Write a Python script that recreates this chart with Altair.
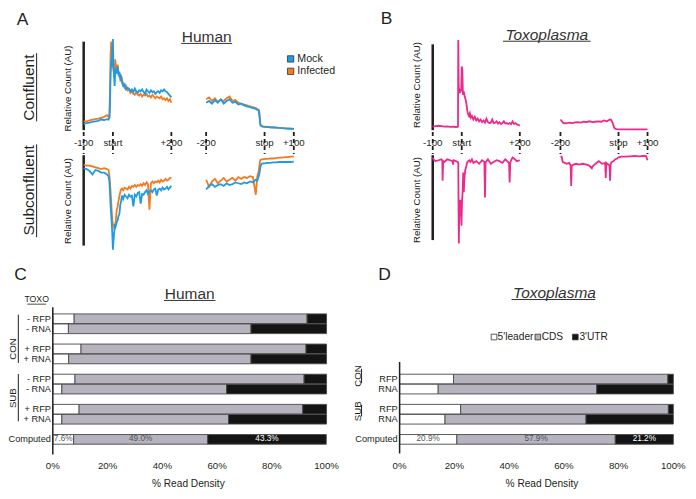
import altair as alt
import pandas as pd

# ---------------- metagene traces (x: nt from start / stop codon, y: relative count, AU) ----------------
A_START_NT = [-100, -90, -80, -70, -60, -50, -40, -30, -20, -15, -12,
              -10, -8, -6, -4, -2, 0, 2, 4, 6, 8, 10,
              13, 16, 19, 22, 25, 28, 31,
              35, 40, 45, 50, 55, 60, 65, 70, 75, 80, 85, 90, 95, 100, 105, 110, 115, 120,
              125, 130, 135, 140, 145, 150, 155, 160, 165, 170, 175, 180, 185, 190, 195, 200]
A_CONF_START_MOCK = [7, 8, 8.5, 9.5, 10, 10.5, 12, 11.5, 12.5, 12, 14,
                     30, 62, 80, 72, 95, 103, 74, 60, 50, 66, 70,
                     64, 72, 62, 66, 58, 60, 54,
                     50, 52, 46, 48, 47, 44, 46, 43, 47, 44, 42, 45, 44, 46, 43, 41, 46, 44,
                     42, 45, 43, 44, 41, 43, 44, 42, 45, 44, 46, 44, 43, 41, 39, 37]
A_CONF_START_INF = [10, 10, 11, 12, 12.5, 13, 14, 15, 17, 15, 16,
                    45, 85, 100, 82, 70, 85, 66, 75, 62, 80, 73,
                    70, 74, 66, 60, 64, 55, 58,
                    52, 48, 50, 45, 46, 42, 44, 41, 40, 43, 40, 39, 41, 38, 40, 39, 41, 38,
                    39, 37, 40, 38, 36, 38, 37, 36, 38, 35, 36, 34, 36, 33, 35, 31]
A_SUB_START_MOCK = [87, 86, 84, 80, 85, 84, 82, 82, 80, 78, 72,
                    60, 45, 35, 25, 12, -5, 5, 13, 20, 24, 22,
                    26, 28, 33, 35, 45, 50, 56,
                    52, 57, 55, 53, 57, 55, 56, 44, 57, 55, 59, 60, 47, 58, 57, 60, 62, 58,
                    61, 62, 60, 63, 64, 56, 63, 64, 62, 65, 63, 64, 66, 63, 65, 67]
A_SUB_START_INF = [91, 90, 90, 89, 88, 87, 86, 87, 86, 85, 78,
                   71, 60, 49, 38, 28, 24, 22, 20, 18, 24, 28,
                   40, 43, 50, 55, 60, 63, 64,
                   62, 65, 64, 63, 66, 64, 67, 66, 68, 66, 68, 67, 69, 67, 70, 68, 71, 69,
                   40, 70, 72, 70, 72, 71, 73, 71, 74, 72, 73, 75, 73, 74, 76, 76]

STOP_NT = [-200, -190, -180, -170, -160, -150, -140, -130, -120, -110, -100, -90, -80, -70,
           -60, -50, -40, -30, -25, -20, -17, -15, -13, -10, -5, 0,
           10, 20, 30, 40, 50, 60, 70, 80, 90, 100]
A_CONF_STOP_MOCK = [31, 33, 30, 34, 31, 35, 30, 33, 35, 31, 32, 29, 30, 28, 27, 26, 25, 24,
                    23, 22, 14, 7, 5, 4.5, 4, 3.8, 3.5, 3.2, 3, 2.8, 2.5, 2.3, 2, 1.8, 1.6, 1.5]
A_CONF_STOP_INF = [35, 37, 33, 36, 32, 34, 33, 36, 38, 33, 34, 31, 30, 29, 28, 27, 26, 25,
                   24, 23, 18, 8, 5.5, 4.6, 4, 3.9, 3.6, 3.3, 3.1, 2.9, 2.6, 2.4, 2.1, 1.9, 1.7, 1.6]
A_SUB_STOP_MOCK = [63, 67, 69, 66, 68, 69, 67, 70, 68, 69, 71, 70, 69, 71, 70, 72, 71, 74,
                   73, 78, 82, 87, 90, 92, 92.5, 92.5, 93, 93, 93.5, 93.5, 94, 94, 94, 94, 94, 94.5]
A_SUB_STOP_INF = [74, 66, 72, 75, 70, 73, 76, 72, 74, 76, 73, 77, 75, 77, 76, 78, 77, 57,
                  78, 84, 92, 96, 96.5, 97, 97, 97.5, 97.5, 98, 98, 98.5, 99, 99, 99.5, 99.5, 100, 100]

B_START_NT = [-100, -90, -80, -70, -60, -50, -40, -30, -20, -15, -13, -12, -11,
              -10, -8, -6, -4, -2, 0, 2, 4, 6, 8, 10,
              13, 16, 19, 22, 25, 28, 31,
              35, 40, 45, 50, 55, 60, 65, 70, 75, 80, 85, 90, 95, 100, 105, 110, 115, 120,
              125, 130, 135, 140, 145, 150, 155, 160, 165, 170, 175, 180, 185, 190, 195, 200]
B_CONF_START = [4, 4.5, 5, 4.5, 4, 4.2, 3.8, 4, 3.6, 3.8, 4, 102, 60,
                44, 45, 42, 45, 45, 72, 68, 40, 44, 42, 38,
                35, 30, 22, 18, 16, 19, 14,
                16, 12, 15, 11, 13, 10, 12, 9, 11, 8.5, 13, 9, 8, 8.5, 12, 8, 8.5, 10,
                7.5, 9, 7, 8, 10, 7.5, 8, 7, 8, 6.8, 10, 7, 8, 6.5, 6, 5]
B_CONF_STOP = [12, 8, 7.8, 8.5, 8, 8.8, 9, 8.5, 9.5, 9, 10, 9, 9.5, 10, 9.5, 11, 10, 12,
               11.5, 8, 5, 3, 2, 1.5, 1.2, 1, 1, 1, 1, 0.9, 0.9, 0.9, 0.8, 0.8, 0.8, 0.8]
B_SUB_START_NT = [-100, -95, -90, -80, -70, -67, -66, -64, -60, -50, -40, -32, -30, -28, -20,
                  -14, -12, -11, -10, -9, -7, -5, -3, -1, 1, 3, 5, 7, 9, 12, 15, 18, 22, 26, 30,
                  35, 40, 50, 60, 70, 78, 80, 82, 85, 90, 100, 110, 120, 130, 140, 150, 160,
                  163, 165, 167, 170, 175, 180, 190, 200]
B_SUB_START = [99, 96, 95, 96, 97, 96, 73, 95, 94, 97, 96, 95, 91, 96, 95,
               94, 93, 40, 2, 30, 49, 51, 40, 22, 50, 60, 82, 60, 75, 85, 88, 93, 95, 96, 94,
               97, 93, 95, 92, 96, 94, 54, 93, 95, 97, 92, 94, 96, 95, 93, 97, 94,
               92, 71, 93, 96, 99, 98, 95, 96]
B_SUB_STOP_NT = [-200, -196, -192, -185, -178, -170, -165, -163, -161, -155, -146, -135, -123,
                 -110, -101, -92, -90, -79, -68, -57, -46, -44, -42, -39, -31, -29, -27, -23,
                 -17, -12, -5, -1, 10, 25, 40, 55, 70, 85, 95, 100]
B_SUB_STOP = [100, 100, 94, 93, 92, 93, 90, 67, 90, 91, 92, 91, 92,
              91, 90, 87, 89, 92, 95, 92, 93, 76, 93, 92, 90, 73, 92, 94,
              95, 97, 98, 99, 100, 100, 100.5, 101, 100.5, 101, 100.6, 96]

TICK_NT = [-100, 0, 200, -200, 0, 100]
TICK_SEG = ["start", "start", "start", "stop", "stop", "stop"]
TICK_LABELS = ["-100", "start", "+200", "-200", "stop", "+100"]
SERIES_A = ["Mock", "Infected"]

# ---------------- read-density bars (% of reads) ----------------
C_ROWS = ["- RFP", "- RNA", "+ RFP", "+ RNA", "- RFP", "- RNA", "+ RFP", "+ RNA", "Computed"]
C_SLOT = [0, 1, 3, 4, 6, 7, 9, 10, 12]
C_LEADER = [7.8, 5.7, 10.3, 5.8, 8.1, 3.3, 9.6, 3.3, 7.6]
C_CDS = [85.1, 66.7, 82.2, 66.6, 83.7, 60.2, 81.7, 60.9, 49.0]
C_UTR = [7.1, 27.6, 7.5, 27.6, 8.2, 36.5, 8.7, 35.8, 43.3]

D_ROWS = ["RFP", "RNA", "RFP", "RNA", "Computed"]
D_SLOT = [6, 7, 9, 10, 12]
D_LEADER = [19.7, 14.1, 22.3, 16.6, 20.9]
D_CDS = [78.3, 57.9, 75.9, 51.5, 57.9]
D_UTR = [2.0, 28.0, 1.8, 31.9, 21.2]

PARTS = ["5'leader", "CDS", "3'UTR"]
PCT_TICKS = [0, 20, 40, 60, 80, 100]

# ---------------- styles / layout ----------------
FONT = "Liberation Sans"
INK = "#231f20"
MOCK_C, INF_C, TOXO_C = "#1f9be3", "#f47a20", "#ec2a8c"
PART_COLORS = ["#ffffff", "#b6b2be", "#141414"]
TRACE_W = 1.8

SX, SY = 678 / 696, 480 / 499
FS = (SX + SY) / 2
W_L, W_R, H_T, H_B = 341, 337, 258, 222
XL = (0.0, W_L / SX)
XR = (W_L / SX, (W_L + W_R) / SX)
YT = (0.0, H_T / SY)
YB = (H_T / SY, (H_T + H_B) / SY)


def lin(a, b, r0, r1):
    return [(r0 - a) / b, (r1 - a) / b]


def xscale(a, b, span):
    return alt.Scale(domain=lin(a, b, span[0], span[1]), nice=False, zero=False)


def yscale(a, b, span):
    return alt.Scale(domain=lin(a, b, span[1], span[0]), nice=False, zero=False)


def exy(xs, ys):
    return dict(x=alt.X("x:Q", scale=xs, axis=None), y=alt.Y("y:Q", scale=ys, axis=None))


def texts(rows, xs, ys, size, color=INK, **kw):
    df = pd.DataFrame(rows, columns=["x", "y", "t"])
    return alt.Chart(df).mark_text(font=FONT, fontSize=size * FS, color=color, **kw).encode(
        **exy(xs, ys), text="t:N")


def rules(rows, xs, ys, **kw):
    df = pd.DataFrame(rows, columns=["x", "x2", "y", "y2"])
    return alt.Chart(df).mark_rule(**kw).encode(**exy(xs, ys), x2="x2:Q", y2="y2:Q")


def trace_df(parts):
    recs = []
    for g, nts, vals, xo, yo in parts:
        for n, v in zip(nts, vals):
            recs.append({"g": g, "x": n + xo, "y": v + yo})
    return pd.DataFrame(recs)


def lines(parts, xs, ys, color):
    return alt.Chart(trace_df(parts)).mark_line(color=color, strokeWidth=TRACE_W).encode(
        **exy(xs, ys), detail="g:N")


SUB_OFF = -130

# ---------------- panel A ----------------
A_OFF = 519
AXS = xscale(107.7, 0.3, XL)
AYS = yscale(127, -0.92, YT)
a_ticks_x = [n + (A_OFF if s == "stop" else 0) for n, s in zip(TICK_NT, TICK_SEG)]
a_mock = [("cs", A_START_NT, A_CONF_START_MOCK, 0, 0), ("ce", STOP_NT, A_CONF_STOP_MOCK, A_OFF, 0),
          ("ss", A_START_NT, A_SUB_START_MOCK, 0, SUB_OFF), ("se", STOP_NT, A_SUB_STOP_MOCK, A_OFF, SUB_OFF)]
a_inf = [("cs", A_START_NT, A_CONF_START_INF, 0, 0), ("ce", STOP_NT, A_CONF_STOP_INF, A_OFF, 0),
         ("ss", A_START_NT, A_SUB_START_INF, 0, SUB_OFF), ("se", STOP_NT, A_SUB_STOP_INF, A_OFF, SUB_OFF)]
a_leg = pd.DataFrame({"x": [608, 608], "y": [80.5, 66.5], "c": [MOCK_C, INF_C]})

panel_a = alt.layer(
    rules([(-100, -100, 0, 100), (-100, -100, -130.4, -28.3)], AXS, AYS, color=INK, strokeWidth=2.5),
    rules([(x, x, -2, -27) for x in a_ticks_x], AXS, AYS, color=INK, strokeWidth=1.8, strokeDash=[4, 3]),
    lines(a_inf, AXS, AYS, INF_C),
    lines(a_mock, AXS, AYS, MOCK_C),
    texts([(x, -15, t) for x, t in zip(a_ticks_x, TICK_LABELS)], AXS, AYS, 10, baseline="middle"),
    alt.Chart(a_leg).mark_square(size=40, stroke="#333333", strokeWidth=0.8, opacity=1).encode(
        **exy(AXS, AYS), color=alt.Color("c:N", scale=None)),
    texts([(631, 80.5, SERIES_A[0]), (631, 66.5, SERIES_A[1])], AXS, AYS, 11, align="left", baseline="middle"),
    texts([(-309, 125, "A")], AXS, AYS, 18, baseline="middle"),
    texts([(321, 105, "Human")], AXS, AYS, 16, baseline="middle", color="#333333"),
    rules([(234, 408, 98, 98)], AXS, AYS, color="#333333", strokeWidth=1),
    texts([(-286, 48, "Confluent"), (-286, -68, "Subconfluent")], AXS, AYS, 16, angle=270, baseline="middle"),
    rules([(-261, -261, 10, 87), (-261, -261, -121, -16)], AXS, AYS, color=INK, strokeWidth=1),
    texts([(-152, 47, "Relative Count (AU)"), (-152, -80, "Relative Count (AU)")], AXS, AYS, 10,
          angle=270, baseline="middle"),
).properties(width=W_L, height=H_T)

# ---------------- panel B ----------------
B_OFF = 540
BXS = xscale(465.8, 0.298, XR)
BYS = yscale(127, -0.92, YT)
b_ticks_x = [n + (B_OFF if s == "stop" else 0) for n, s in zip(TICK_NT, TICK_SEG)]
b_parts = [("cs", B_START_NT, B_CONF_START, 0, 0), ("ce", STOP_NT, B_CONF_STOP, B_OFF, 0),
           ("ss", B_SUB_START_NT, B_SUB_START, 0, SUB_OFF), ("se", B_SUB_STOP_NT, B_SUB_STOP, B_OFF, SUB_OFF)]

panel_b = alt.layer(
    rules([(-100, -100, 0, 97), (-100, -100, -124.2, -28.3)], BXS, BYS, color=INK, strokeWidth=2.5),
    rules([(x, x, -2, -27) for x in b_ticks_x], BXS, BYS, color=INK, strokeWidth=1.8, strokeDash=[4, 3]),
    lines(b_parts, BXS, BYS, TOXO_C),
    texts([(x, -15, t) for x, t in zip(b_ticks_x, TICK_LABELS)], BXS, BYS, 10, baseline="middle"),
    texts([(-259, 126, "B")], BXS, BYS, 18, baseline="middle"),
    texts([(293, 107.6, "Toxoplasma")], BXS, BYS, 16, baseline="middle", fontStyle="italic", color="#333333"),
    rules([(142, 444, 100.5, 100.5)], BXS, BYS, color="#333333", strokeWidth=1),
    texts([(-154, 51, "Relative Count (AU)"), (-154, -79, "Relative Count (AU)")], BXS, BYS, 10,
          angle=270, baseline="middle"),
).properties(width=W_R, height=H_T)


# ---------------- panels C / D ----------------
def bar_df(rows, slots, leader, cds, utr):
    recs = []
    for r, s, l, c, u in zip(rows, slots, leader, cds, utr):
        edges = [0, l, l + c, l + c + u]
        for i, p in enumerate(PARTS):
            recs.append({"row": r, "part": p, "x": edges[i], "x2": edges[i + 1],
                         "y": s - 0.48, "y2": s + 0.48})
    return pd.DataFrame(recs)


def bars(df, xs, ys):
    return alt.Chart(df).mark_bar(stroke="#4a4a4a", strokeWidth=0.9).encode(
        **exy(xs, ys), x2="x2:Q", y2="y2:Q",
        color=alt.Color("part:N", scale=alt.Scale(domain=PARTS, range=PART_COLORS), legend=None))


def computed_labels(leader, cds, utr, slot, xs, ys):
    l, c, u = leader[-1], cds[-1], utr[-1]
    dark = [(l / 2, slot, f"{l:.1f}%"), (l + c / 2, slot, f"{c:.1f}%")]
    light = [(l + c + u / 2, slot, f"{u:.1f}%")]
    return [texts(dark, xs, ys, 8.5, color="#555555", baseline="middle"),
            texts(light, xs, ys, 8.5, color="#ffffff", baseline="middle")]


CXS = xscale(46, 2.81, XL)
CYS = yscale(322, 10.45, YB)
panel_c = alt.layer(
    bars(bar_df(C_ROWS, C_SLOT, C_LEADER, C_CDS, C_UTR), CXS, CYS),
    *computed_labels(C_LEADER, C_CDS, C_UTR, C_SLOT[-1], CXS, CYS),
    rules([(0, 0, -1.15, 13.5)], CXS, CYS, color=INK, strokeWidth=1.5),
    texts([(-0.7, s, r) for r, s in zip(C_ROWS, C_SLOT)], CXS, CYS, 9.5, align="right", baseline="middle"),
    texts([(-14.5, 3, "CON"), (-14.5, 7.9, "SUB")], CXS, CYS, 10, angle=270, baseline="middle"),
    rules([(-12.6, -12.6, -0.4, 4.4), (-12.6, -12.6, 5.5, 10.2)], CXS, CYS, color=INK, strokeWidth=1),
    texts([(-5.9, -2.0, "TOXO")], CXS, CYS, 9, baseline="middle"),
    rules([(-9.3, -2.5, -1.45, -1.45)], CXS, CYS, color=INK, strokeWidth=0.8),
    texts([(-11.8, -4.35, "C")], CXS, CYS, 18, baseline="middle"),
    texts([(50, -2.49, "Human")], CXS, CYS, 16, baseline="middle", color="#333333"),
    rules([(40.6, 59.4, -1.82, -1.82)], CXS, CYS, color="#333333", strokeWidth=1),
    texts([(t, 14.6, f"{t}%") for t in PCT_TICKS], CXS, CYS, 10, baseline="middle"),
    texts([(49.5, 16.4, "% Read Density")], CXS, CYS, 10.5, baseline="middle"),
).properties(width=W_L, height=H_B)

DXS = xscale(402, 2.81, XR)
DYS = yscale(322, 10.45, YB)
d_leg = pd.DataFrame({"x": [34.5, 50.5, 64.2], "y": [1.82] * 3, "part": PARTS})
panel_d = alt.layer(
    bars(bar_df(D_ROWS, D_SLOT, D_LEADER, D_CDS, D_UTR), DXS, DYS),
    *computed_labels(D_LEADER, D_CDS, D_UTR, D_SLOT[-1], DXS, DYS),
    rules([(0, 0, 4.3, 13.4)], DXS, DYS, color=INK, strokeWidth=1.5),
    texts([(-0.7, s, r) for r, s in zip(D_ROWS, D_SLOT)], DXS, DYS, 9.5, align="right", baseline="middle"),
    texts([(-15.3, 5.7, "CON"), (-15.3, 9.2, "SUB")], DXS, DYS, 10, angle=270, baseline="middle"),
    rules([(-13.9, -13.9, 4.98, 6.41), (-13.9, -13.9, 8.56, 9.71)], DXS, DYS, color=INK, strokeWidth=1),
    alt.Chart(d_leg).mark_square(size=32, stroke="#333333", strokeWidth=0.8, opacity=1).encode(
        **exy(DXS, DYS),
        color=alt.Color("part:N", scale=alt.Scale(domain=PARTS, range=PART_COLORS), legend=None)),
    texts([(35.8, 1.82, PARTS[0]), (51.9, 1.82, PARTS[1]), (65.7, 1.82, PARTS[2])], DXS, DYS, 10.5,
          align="left", baseline="middle"),
    texts([(-5.5, -4.35, "D")], DXS, DYS, 18, baseline="middle"),
    texts([(56.6, -2.58, "Toxoplasma")], DXS, DYS, 16, baseline="middle", fontStyle="italic", color="#333333"),
    rules([(40.9, 71.5, -1.91, -1.91)], DXS, DYS, color="#333333", strokeWidth=1),
    texts([(t, 14.6, f"{t}%") for t in PCT_TICKS], DXS, DYS, 10, baseline="middle"),
    texts([(52, 16.4, "% Read Density")], DXS, DYS, 10.5, baseline="middle"),
).properties(width=W_R, height=H_B)

top = alt.hconcat(panel_a, panel_b, spacing=0)
bottom = alt.hconcat(panel_c, panel_d, spacing=0)
chart = alt.vconcat(top, bottom, spacing=0).properties(
    padding=0, background="white"
).configure_view(stroke=None)

chart.save("out.html", embed_options={"renderer": "svg", "actions": False})
